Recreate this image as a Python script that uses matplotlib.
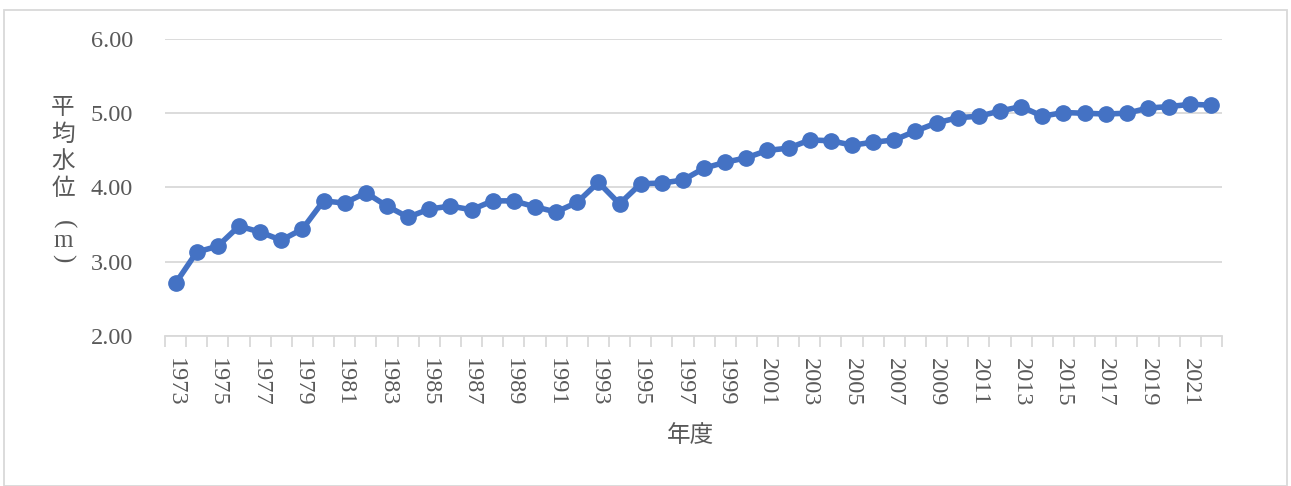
import matplotlib
matplotlib.use("Agg")
import matplotlib.pyplot as plt
from matplotlib.patches import Rectangle
import numpy as np

years = list(range(1973, 2023))
water_level = [2.71, 3.13, 3.21, 3.48, 3.40, 3.29, 3.44, 3.82, 3.79, 3.93,
               3.75, 3.60, 3.71, 3.75, 3.70, 3.82, 3.82, 3.74, 3.67, 3.80,
               4.07, 3.78, 4.05, 4.06, 4.10, 4.26, 4.34, 4.40, 4.50, 4.53,
               4.64, 4.63, 4.57, 4.61, 4.64, 4.76, 4.87, 4.94, 4.96, 5.03,
               5.09, 4.96, 5.01, 5.00, 4.99, 5.00, 5.07, 5.09, 5.12, 5.11]
y_ticks = [2.00, 3.00, 4.00, 5.00, 6.00]
y_label_chars = ["平", "均", "水", "位", "(", "m", ")"]
x_label = "年度"

text_color = "#595959"
grid_color = "#d9d9d9"
line_color = "#4472C4"
num_font = ["Liberation Serif", "Noto Sans CJK JP"]
jp_font = ["Noto Sans CJK JP", "DejaVu Sans"]

fig = plt.figure(figsize=(12.91, 4.86), dpi=100)
W, H = 1291, 486
ax = fig.add_axes([165 / W, 1 - 336 / H, (1222 - 165) / W, (336 - 39) / H])

x = np.arange(len(years))
ax.plot(x, water_level, color=line_color, lw=4, marker="o", ms=11,
        solid_capstyle="round", zorder=3)

ax.set_xlim(-0.5, len(years) - 0.5)
ax.set_ylim(2, 6)
ax.set_yticks(y_ticks)
ax.set_yticklabels([f"{v:.2f}" for v in y_ticks], fontfamily=num_font,
                   fontsize=17.5, color=text_color)
ax.yaxis.grid(True, color=grid_color, lw=1.3)
ax.set_axisbelow(True)
ax.tick_params(axis="y", length=0, pad=23)

ax.set_xticks(x[::2])
ax.set_xticklabels([str(y) for y in years[::2]], rotation=-90,
                   fontfamily=num_font, fontsize=17.5, color=text_color)
ax.set_xticks(np.arange(-0.5, len(years), 1.0), minor=True)
ax.tick_params(axis="x", which="major", length=0, pad=16)
ax.tick_params(axis="x", which="minor", length=8, color=grid_color, width=1.3)

for s in ["top", "right", "left"]:
    ax.spines[s].set_visible(False)
ax.spines["bottom"].set_color(grid_color)
ax.spines["bottom"].set_linewidth(1.3)

# vertical y-axis label (stacked characters, brackets turned for vertical writing)
char_y = [107, 134, 161, 188, 224, 241, 258]
for ch, yy in zip(y_label_chars, char_y):
    if ch in "()":
        fig.text(63 / W, 1 - yy / H, ch, ha="center", va="center", rotation=-90,
                 fontsize=18, color=text_color, family=num_font)
    elif ch == "m":
        fig.text(63 / W, 1 - yy / H, ch, ha="center", va="center",
                 fontsize=18, color=text_color, family=num_font)
    else:
        fig.text(63 / W, 1 - yy / H, ch, ha="center", va="center",
                 fontsize=17, color=text_color, family=jp_font)

fig.text(690 / W, 1 - 435 / H, x_label, ha="center", va="center",
         fontsize=17, color=text_color, family=jp_font)

fig.patches.append(Rectangle((4 / W, 0), (1287 - 4) / W, 1 - 10 / H,
                             transform=fig.transFigure, fill=False,
                             edgecolor=grid_color, lw=1.3))

fig.savefig("out.png", dpi=100, facecolor="white")
